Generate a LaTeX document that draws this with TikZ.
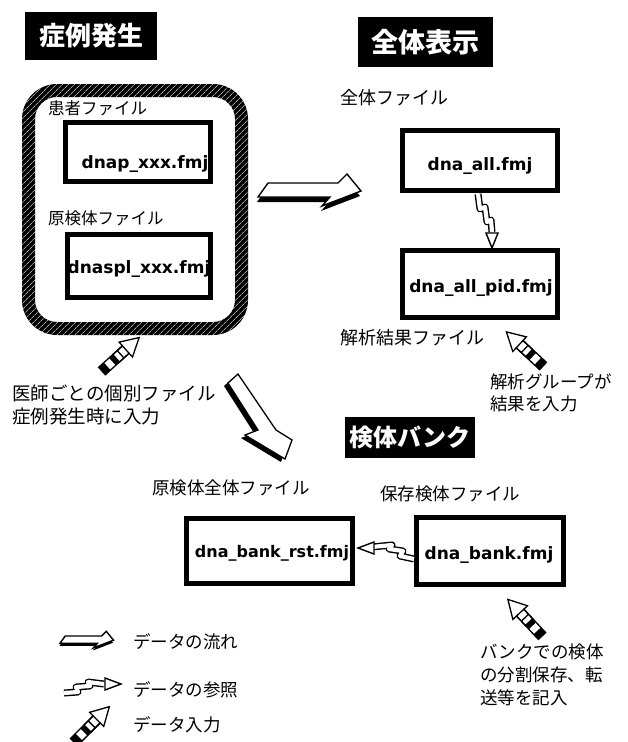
\documentclass[tikz,border=0pt]{standalone}
\usepackage{fontspec}
\newfontfamily\jp{Noto Sans CJK JP}
\newfontfamily\fnm{DejaVu Sans}
\usetikzlibrary{patterns.meta,calc}
\tikzset{
  inarrow/.pic={
    \fill[white] (0,-5) rectangle (32,5);
    \fill[black] (0,-5) rectangle (7,5);
    \fill[black] (14,-5) rectangle (19,5);
    \filldraw[fill=white,draw=black,line width=1.3pt,line join=miter] (19,-5) -- (32,-5) -- (32,-10) -- (50,0) -- (32,10) -- (32,5) -- (19,5) -- cycle;
    \draw[line width=1.3pt,line join=miter] (0,-5) rectangle (32,5);
    \draw[line width=1.3pt] (25,-5) -- (25,5);
  },
  flowarrow/.pic={
    \begin{scope}[shift={(-1,5)}]
      \fill[black] (0,14) -- (10,0) -- (80,0) -- (89,-9) -- (103,8) -- (64,23) -- (72,14) -- cycle;
    \end{scope}
    \filldraw[fill=white,draw=black,line width=1.4pt,line join=miter] (0,14) -- (10,0) -- (80,0) -- (89,-9) -- (103,8) -- (64,23) -- (72,14) -- cycle;
  },
  downarrow/.pic={
    \begin{scope}[shift={(-4,3)}]
      \fill[black] (0,9) -- (10,0) -- (48,56) -- (64,66) -- (57,85) -- (17,61) -- (30,56) -- cycle;
    \end{scope}
    \filldraw[fill=white,draw=black,line width=1.3pt,line join=miter] (0,9) -- (10,0) -- (48,56) -- (64,66) -- (57,85) -- (17,61) -- (30,56) -- cycle;
  }
}
\begin{document}
\begin{tikzpicture}[x=1pt,y=-1pt,
  filebox/.style={draw,line width=5pt,inner sep=0pt},
  fname/.style={font=\fnm\bfseries\fontsize{17}{20}\selectfont,inner sep=0pt,anchor=base},
  jlab/.style={font=\jp\fontsize{17.5}{22.5}\selectfont,inner sep=0pt,anchor=west,align=left},
  titlebox/.style={fill=black,text=white,inner sep=0pt},
  boltline/.style={draw=black,line width=1.4pt,double=white,double distance=4.2pt,line join=round},
  bolttip/.style={draw=black,fill=white,line width=1.4pt,line join=miter}
]
\fill[white] (0,0) rectangle (628,742);
\useasboundingbox (0,0) rectangle (628,742);

% titles
\node[titlebox,minimum width=132pt,minimum height=48pt,font=\jp\bfseries\fontsize{26}{28}\selectfont] (t1) at (91,36) {症例発生};
\node[titlebox,minimum width=135pt,minimum height=50pt,font=\jp\bfseries\fontsize{27}{29}\selectfont] (t2) at (425.5,42) {全体表示};
\node[titlebox,minimum width=130pt,minimum height=41pt,font=\jp\bfseries\fontsize{24}{26}\selectfont] (t3) at (410,437.5) {検体バンク};

% hatched group frame
\fill[black,even odd rule,rounded corners=35pt] (22,84) rectangle (248,335) [rounded corners=22pt] (35,97) rectangle (235,322);
\fill[pattern={Lines[angle=45,distance=4pt,line width=0.5pt]},pattern color=white,even odd rule,rounded corners=35pt] (22,84) rectangle (248,335) [rounded corners=22pt] (35,97) rectangle (235,322);

% file boxes
\node[filebox,minimum width=145pt,minimum height=59pt] (dnap) at (138,152) {};
\node[fname] (dnapt) at (145,168) {dnap\_xxx.fmj};
\node[filebox,minimum width=143pt,minimum height=63pt] (dnaspl) at (139,266) {};
\node[fname] (dnasplt) at (139,273) {dnaspl\_xxx.fmj};
\node[filebox,minimum width=155pt,minimum height=60pt] (dnaall) at (480,160.5) {};
\node[fname] (dnaallt) at (480,170) {dna\_all.fmj};
\node[filebox,minimum width=155pt,minimum height=67pt] (dnapid) at (480,284) {};
\node[fname] (dnapidt) at (481,292) {dna\_all\_pid.fmj};
\node[filebox,minimum width=166pt,minimum height=65pt] (dnarst) at (269.5,551) {};
\node[fname,font=\fnm\bfseries\fontsize{16}{19}\selectfont] (dnarstt) at (272,557) {dna\_bank\_rst.fmj};
\node[filebox,minimum width=147pt,minimum height=67pt] (dnabank) at (490,551) {};
\node[fname] (dnabankt) at (489,559) {dna\_bank.fmj};

% labels
\node[jlab,font=\jp\fontsize{16.5}{20}\selectfont] (l1) at (48,108) {患者ファイル};
\node[jlab,font=\jp\fontsize{16.5}{20}\selectfont] (l2) at (48,218) {原検体ファイル};
\node[jlab,font=\jp\fontsize{18}{22}\selectfont] (l3) at (340,98) {全体ファイル};
\node[jlab,font=\jp\fontsize{18}{22}\selectfont] (l4) at (340,338) {解析結果ファイル};
\node[jlab] (l5) at (490,393) {解析グループが\\結果を入力};
\node[jlab,font=\jp\fontsize{18.5}{23}\selectfont] (l6) at (12,404.5) {医師ごとの個別ファイル\\症例発生時に入力};
\node[jlab] (l7) at (152,488) {原検体全体ファイル};
\node[jlab] (l8) at (380,494) {保存検体ファイル};
\node[jlab,font=\jp\fontsize{17.5}{23}\selectfont] (l9) at (480,675) {バンクでの検体\\の分割保存、転\\送等を記入};
\node[jlab] (g1) at (133,642) {データの流れ};
\node[jlab] (g2) at (133,690) {データの参照};
\node[jlab] (g3) at (133,725) {データ入力};

% reference bolts
\coordinate (b1s) at ($(dnaall.south)+(-2,1)$);
\coordinate (b1t) at ($(dnapid.north)+(12,0)$);
\draw[boltline] (b1s) -- ++(2,15) -- ++(5,-2) -- ++(2,15) -- ++(4,-2) -- ++(1,12);
\filldraw[bolttip] ($(b1t)+(-6,-15)$) -- (b1t) -- ($(b1t)+(6,-15)$) -- cycle;

\coordinate (b2s) at ($(dnabank.west)+(0,8)$);
\coordinate (b2t) at ($(dnarst.east)+(3,-3)$);
\draw[boltline] (b2s) -- ++(-14,-3) -- ++(3,-5) -- ++(-14,-2) -- ++(3,-4) -- ++(-20,2);
\filldraw[bolttip] ($(b2t)+(16,-6)$) -- (b2t) -- ($(b2t)+(16,6)$) -- cycle;

% flow arrows
\coordinate (fa) at (258,183);
\pic at (fa) {flowarrow};
\coordinate (da) at (228,374);
\pic at (da) {downarrow};

% input arrows
\coordinate (ia1) at (102,371);
\pic[rotate=42] at (ia1) {inarrow};
\coordinate (ia2) at (543,366);
\pic[rotate=137] at (ia2) {inarrow};
\coordinate (ia3) at (542,636);
\pic[rotate=133] at (ia3) {inarrow};

% legend icons
\coordinate (lg1) at (60,636);
\pic[scale=0.52] at (lg1) {flowarrow};
\coordinate (lg2) at (64,693);
\coordinate (lg2t) at (121,684);
\draw[boltline] (lg2) -- ++(14,-1) -- ++(-2,-5) -- ++(14,-1) -- ++(-2,-4) -- ++(16,2);
\filldraw[bolttip] ($(lg2t)+(-16,-6)$) -- (lg2t) -- ($(lg2t)+(-16,6)$) -- cycle;
\coordinate (lg3) at (74,742);
\pic[rotate=45] at (lg3) {inarrow};
\end{tikzpicture}
\end{document}
